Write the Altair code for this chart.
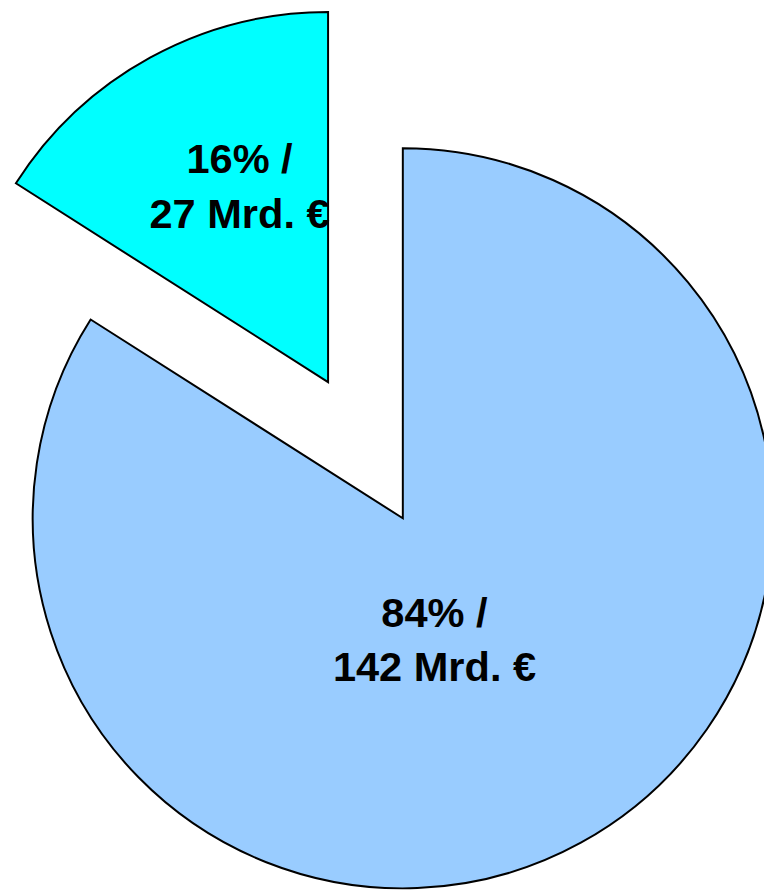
import math
import altair as alt
import pandas as pd

# ---- data ----
categories = ["Übrige", "Anteil"]
values_mrd = [142, 27]          # Mrd. €
percents = [84, 16]             # %
colors = ["#99CCFF", "#00FFFF"]

# ---- layout constants (not data) ----
CX, CY = 399, 511               # pie centre inside the plot area
RADIUS = 374
EXPLODE = {"Übrige": 0, "Anteil": 157}

total = sum(values_mrd)
rows = []
start = 0.0
for cat, v, p in zip(categories, values_mrd, percents):
    t0 = start
    t1 = start + 2 * math.pi * v / total
    mid = (t0 + t1) / 2
    off = EXPLODE[cat]
    rows.append({
        "cat": cat,
        "value": v,
        "pct": p,
        "t0": t0,
        "t1": t1,
        "cx": CX + off * math.sin(mid),
        "cy": CY - off * math.cos(mid),
        "label": [f"{p}% /", f"{v} Mrd. €"],
    })
    start = t1
df = pd.DataFrame(rows)

base = alt.Chart(df)

arcs = base.mark_arc(outerRadius=RADIUS, stroke="black", strokeWidth=2).encode(
    x=alt.X("cx:Q", scale=None),
    y=alt.Y("cy:Q", scale=None),
    theta=alt.Theta("t0:Q", scale=None),
    theta2="t1:Q",
    color=alt.Color("cat:N", scale=alt.Scale(domain=categories, range=colors), legend=None),
)

def label_layer(cat, x, y, lh):
    return base.transform_filter(alt.datum.cat == cat).mark_text(
        font="Liberation Sans",
        fontSize=42,
        fontWeight="bold",
        color="black",
        align="center",
        baseline="alphabetic",
        lineHeight=lh,
    ).encode(
        x=alt.value(x),
        y=alt.value(y),
        text="label",
    )

big_label = label_layer("Übrige", 431, 621, 54)
small_label = label_layer("Anteil", 234, 162, 56)

chart = alt.layer(arcs, big_label, small_label).properties(
    width=764,
    height=884,
    autosize=alt.AutoSizeParams(type="none"),
    padding=0,
).configure_view(stroke=None)

chart.save("out.html", embed_options={"renderer": "svg", "actions": False})
